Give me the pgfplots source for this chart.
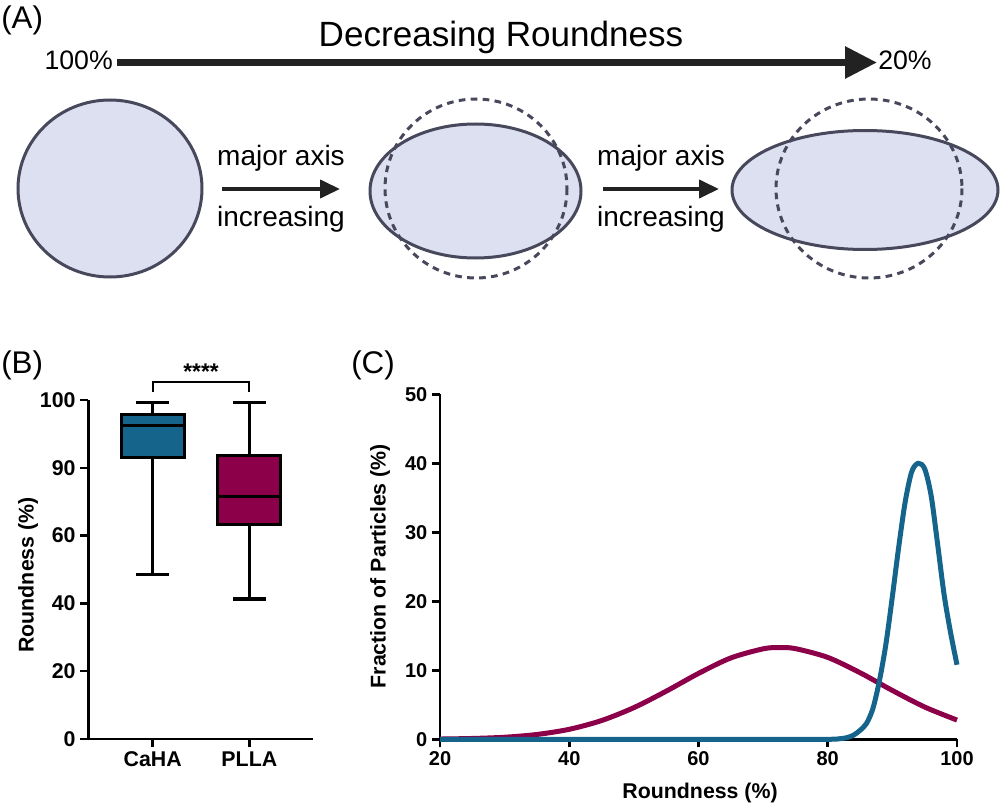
\documentclass[border=0pt]{standalone}
\usepackage{fontspec}
\setmainfont{Liberation Sans}
\usepackage{pgfplots}
\pgfplotsset{compat=1.18}
\usetikzlibrary{arrows.meta}

\definecolor{cahablue}{RGB}{20,100,140}
\definecolor{pllapurple}{RGB}{139,0,72}
\definecolor{shapeline}{RGB}{72,72,92}
\definecolor{shapefill}{RGB}{221,224,240}
\definecolor{arrowgray}{RGB}{34,34,34}

\pgfplotsset{
  panel/.style={
    scale only axis, clip=false,
    axis x line=bottom, axis y line=left,
    axis line style={-, line width=1.9pt},
    tick align=outside, major tick length=6pt,
    tick style={line width=1.9pt, black},
    /pgf/number format/assume math mode=true,
    ticklabel style={font=\bfseries\fontsize{16}{18}\selectfont},
    label style={font=\bfseries\fontsize{16}{18}\selectfont},
  },
  boxline/.style={black, line width=2.3pt, line join=miter, forget plot},
}

\begin{document}
\begin{tikzpicture}
\path[use as bounding box] (0,0) rectangle (750pt,-604.5pt);
% pixel grid of the reference: 1px = 0.75pt, y downwards
\begin{scope}[x=0.75pt,y=-0.75pt]

% ---- panel A (schematic)
\node[anchor=base west, inner sep=0, font=\fontsize{23.5}{26}\selectfont] at (1,29) {(A)};
\node[anchor=base, inner sep=0, font=\fontsize{26.3}{30}\selectfont] at (501,47) {Decreasing Roundness};
\node[anchor=base east, inner sep=0, font=\fontsize{20}{22}\selectfont] at (113,70) {100\%};
\node[anchor=base west, inner sep=0, font=\fontsize{20}{22}\selectfont] at (878,70) {20\%};
\draw[arrowgray, line width=5.25pt, -{Triangle[length=24pt,width=23pt]}] (117,62.5) -- (877,62.5);

\draw[shapeline, fill=shapefill, line width=2.25pt] (110,188.5) ellipse [x radius=92, y radius=88.5];

\draw[shapeline, fill=shapefill, line width=2.25pt] (475.5,191) ellipse [x radius=105.5, y radius=67];
\draw[shapeline, line width=2.25pt, dash pattern=on 5pt off 4pt] (476,188.5) ellipse [x radius=91, y radius=89.5];

\draw[shapeline, fill=shapefill, line width=2.25pt] (865,190) ellipse [x radius=133, y radius=59.5];
\draw[shapeline, line width=2.25pt, dash pattern=on 5pt off 4pt] (869,188.5) ellipse [x radius=93, y radius=89.5];

\foreach \cx/\xa/\xb in {281/222/340, 661/603/719} {
  \node[anchor=base, inner sep=0, font=\fontsize{21}{24}\selectfont] at (\cx,166) {major axis};
  \node[anchor=base, inner sep=0, font=\fontsize{21}{24}\selectfont] at (\cx,227) {increasing};
  \draw[arrowgray, line width=3pt, -{Triangle[length=15pt,width=13.5pt]}] (\xa,189) -- (\xb,189);
}

% ---- panel labels
\node[anchor=base west, inner sep=0, font=\fontsize{23.5}{26}\selectfont] at (1,373) {(B)};
\node[anchor=base west, inner sep=0, font=\fontsize{23.5}{26}\selectfont] at (351,373) {(C)};
\end{scope}

% ---- panel B: box plot with a segmented y axis (0-60 by 20, then 90, 100)
\begin{axis}[panel,
  at={(66.225pt,-554.25pt)}, anchor=south west,
  width=168.75pt, height=254.25pt,
  xmin=0.333, xmax=2.662, ymin=0, ymax=100,
  y coord trafo/.code={\pgfmathparse{#1<=60 ? #1/20 : (#1<=90 ? 3+(#1-60)/30 : 4+(#1-90)/10)}},
  xtick={1,2}, xticklabels={CaHA,PLLA},
  ytick={0,20,40,60,90,100}, yticklabels={0,20,40,60,90,100},
  ylabel={Roundness (\%)},
  ylabel style={at={(axis description cs:-0.268,0.484)}, anchor=center, rotate=0},
]
% CaHA: whiskers 48.6 / 99.7, quartiles 91.5 / 97.9, median 96.2
\addplot[boxline] coordinates {(1,97.9) (1,99.7)};
\addplot[boxline] coordinates {(0.8275,99.7) (1.1725,99.7)};
\addplot[boxline] coordinates {(1,91.5) (1,48.6)};
\addplot[boxline] coordinates {(0.8275,48.6) (1.1725,48.6)};
\addplot[boxline, fill=cahablue] coordinates {(0.674,91.5) (1.326,91.5) (1.326,97.9) (0.674,97.9)} -- cycle;
\addplot[boxline] coordinates {(0.674,96.2) (1.326,96.2)};
% PLLA: whiskers 41.3 / 99.7, quartiles 64.8 / 91.8, median 77.4
\addplot[boxline] coordinates {(2,91.8) (2,99.7)};
\addplot[boxline] coordinates {(1.8275,99.7) (2.1725,99.7)};
\addplot[boxline] coordinates {(2,64.8) (2,41.3)};
\addplot[boxline] coordinates {(1.8275,41.3) (2.1725,41.3)};
\addplot[boxline, fill=pllapurple] coordinates {(1.674,64.8) (2.326,64.8) (2.326,91.8) (1.674,91.8)} -- cycle;
\addplot[boxline] coordinates {(1.674,77.4) (2.326,77.4)};
% significance bracket
\draw[line width=1.6pt] (axis cs:1,101.2) |- (axis cs:2,102.7) -- (axis cs:2,101.2);
\node[font=\bfseries\fontsize{17}{17}\selectfont, inner sep=0] at (axis cs:1.5,104.2) {****};
\end{axis}

% ---- panel C: distributions
\begin{axis}[panel,
  at={(330pt,-554.475pt)}, anchor=south west,
  width=387.75pt, height=258.75pt,
  xmin=20, xmax=100, ymin=0, ymax=50,
  xtick={20,40,60,80,100}, ytick={0,10,20,30,40,50},
  ticklabel style={font=\bfseries\fontsize{15}{17}\selectfont},
  xlabel={Roundness (\%)}, ylabel={Fraction of Particles (\%)},
  label style={font=\bfseries\fontsize{16}{18}\selectfont},
  xlabel style={at={(axis description cs:0.503,-0.156)}, anchor=center},
  ylabel style={at={(axis description cs:-0.116,0.502)}, anchor=center, rotate=0},
]
\addplot[pllapurple, line width=3.75pt, smooth] coordinates {
  (20,0.04) (25,0.12) (30,0.30) (35,0.70) (40,1.45) (45,2.72) (50,4.59)
  (55,6.97) (60,9.55) (65,11.79) (70,13.11) (72.5,13.3) (75,13.14)
  (80,11.87) (85,9.65) (90,7.08) (95,4.68) (100,2.79)
};
\addplot[cahablue, line width=3.75pt, smooth] coordinates {
  (20,0) (30,0) (40,0) (50,0) (60,0) (70,0) (80,0) (82,0.1) (83,0.25)
  (84,0.6) (85,1.3) (86,2.3) (87,4.5) (88,8.5) (89,13.8) (90,20.7)
  (91,28) (92,34.5) (93,38.8) (94,40) (95,39.2) (96,35.3) (97,28.3)
  (98,21) (99,15.5) (100,10.8)
};
\end{axis}
\end{tikzpicture}
\end{document}
